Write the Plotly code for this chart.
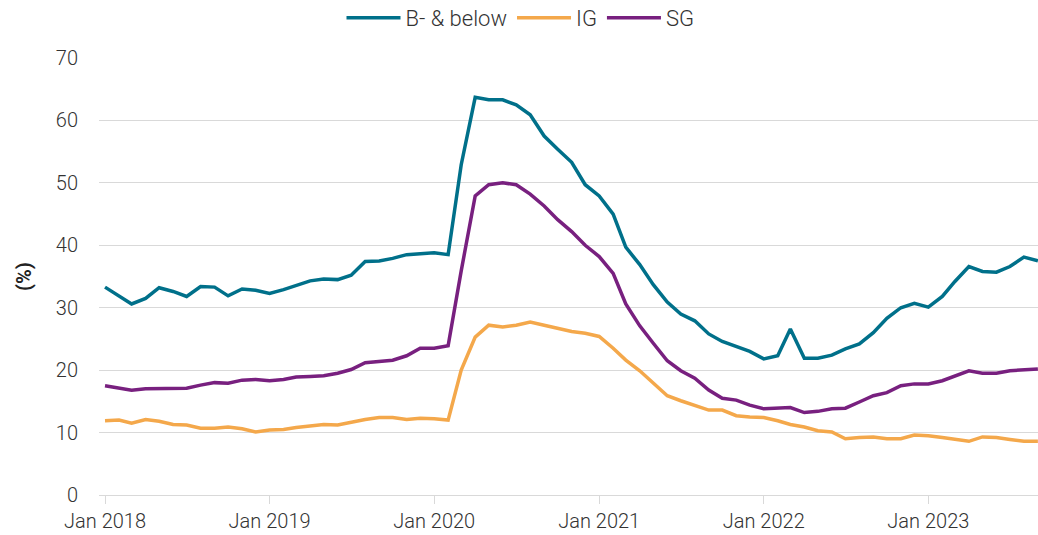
import pandas as pd
import plotly.graph_objects as go

months = pd.date_range("2018-01-01", periods=69, freq="MS")

b_minus_below = [
    33.3, 31.9, 30.6, 31.5, 33.2, 32.6, 31.8, 33.4, 33.3, 31.9, 33.0, 32.8,
    32.3, 32.9, 33.6, 34.3, 34.6, 34.5, 35.2, 37.4, 37.5, 37.9, 38.5, 38.6,
    38.8, 38.5, 52.9, 63.7, 63.3, 63.3, 62.5, 60.9, 57.5, 55.4, 53.3, 49.7,
    47.9, 45.0, 39.7, 36.9, 33.7, 30.9, 29.0, 27.9, 25.8, 24.6, 23.8, 23.0,
    21.8, 22.3, 26.6, 21.9, 21.9, 22.4, 23.4, 24.2, 26.0, 28.3, 30.0, 30.7,
    30.1, 31.8, 34.2, 36.6, 35.8, 35.7, 36.6, 38.1, 37.5,
]
ig = [
    11.9, 12.0, 11.5, 12.1, 11.8, 11.3, 11.2, 10.7, 10.7, 10.9, 10.6, 10.1,
    10.4, 10.5, 10.8, 11.1, 11.3, 11.2, 11.7, 12.1, 12.4, 12.4, 12.1, 12.3,
    12.2, 12.0, 20.0, 25.3, 27.2, 26.9, 27.2, 27.7, 27.2, 26.7, 26.2, 25.9,
    25.4, 23.5, 21.6, 19.9, 17.9, 15.9, 15.1, 14.4, 13.6, 13.6, 12.7, 12.5,
    12.4, 11.9, 11.3, 10.9, 10.3, 10.1, 9.0, 9.2, 9.3, 9.0, 9.0, 9.6,
    9.5, 9.2, 8.9, 8.6, 9.3, 9.2, 8.9, 8.6, 8.6,
]
sg = [
    17.5, 17.1, 16.8, 17.0, 17.0, 17.1, 17.1, 17.6, 18.0, 17.9, 18.4, 18.5,
    18.3, 18.5, 18.9, 19.0, 19.1, 19.5, 20.1, 21.2, 21.4, 21.6, 22.3, 23.5,
    23.5, 23.9, 35.9, 47.9, 49.7, 50.0, 49.7, 48.2, 46.3, 44.1, 42.2, 40.0,
    38.2, 35.5, 30.6, 27.1, 24.3, 21.5, 19.9, 18.7, 16.8, 15.5, 15.2, 14.4,
    13.8, 13.9, 14.0, 13.2, 13.4, 13.8, 13.9, 14.9, 15.9, 16.4, 17.5, 17.8,
    17.8, 18.3, 19.1, 19.9, 19.5, 19.5, 19.9, 20.1, 20.2,
]

series_names = ["B- & below", "IG", "SG"]
series_colors = ["#00708A", "#F4A84B", "#78207F"]
tick_years = ["2018-01-01", "2019-01-01", "2020-01-01", "2021-01-01", "2022-01-01", "2023-01-01"]
tick_labels = ["Jan 2018", "Jan 2019", "Jan 2020", "Jan 2021", "Jan 2022", "Jan 2023"]

FONT = "Roboto"
TEXT = "#333333"

fig = go.Figure()
for name, vals, col in zip(series_names, [b_minus_below, ig, sg], series_colors):
    fig.add_trace(go.Scatter(
        x=months, y=vals, mode="lines", name=name,
        line=dict(color=col, width=3.5),
    ))

fig.update_layout(
    width=1038, height=535,
    margin=dict(l=99, r=0, t=58, b=40),
    paper_bgcolor="white", plot_bgcolor="white",
    font=dict(family=FONT, size=20, color=TEXT, weight=300),
    showlegend=True,
    legend=dict(
        orientation="h", xref="container", yref="container",
        x=0.329, xanchor="left", y=1 - 18 / 535, yanchor="middle",
        font=dict(size=22, color=TEXT), bgcolor="rgba(0,0,0,0)",
        traceorder="normal", itemwidth=54,
    ),
)
fig.update_xaxes(
    range=["2017-12-18 16:00", "2023-09-01 06:00"],
    tickvals=tick_years, ticktext=tick_labels,
    showgrid=False, zeroline=False,
    showline=True, linecolor="#D9D9D9", linewidth=1,
    ticks="outside", ticklen=8, tickcolor="#D9D9D9", tickwidth=1,
    tickfont=dict(size=20, color=TEXT),
)
fig.update_yaxes(
    range=[0, 70], dtick=10, tick0=0,
    showgrid=True, gridcolor="#D9D9D9", gridwidth=1,
    zeroline=False, showline=False,
    ticks="", ticklabelstandoff=20,
    tickfont=dict(size=20, color=TEXT),
    title=dict(text="<b>(%)</b>", font=dict(size=20, color="#222222"), standoff=18),
)

fig.write_html("out.html", config={"displayModeBar": False},
               post_script="document.body.style.margin='0';")
